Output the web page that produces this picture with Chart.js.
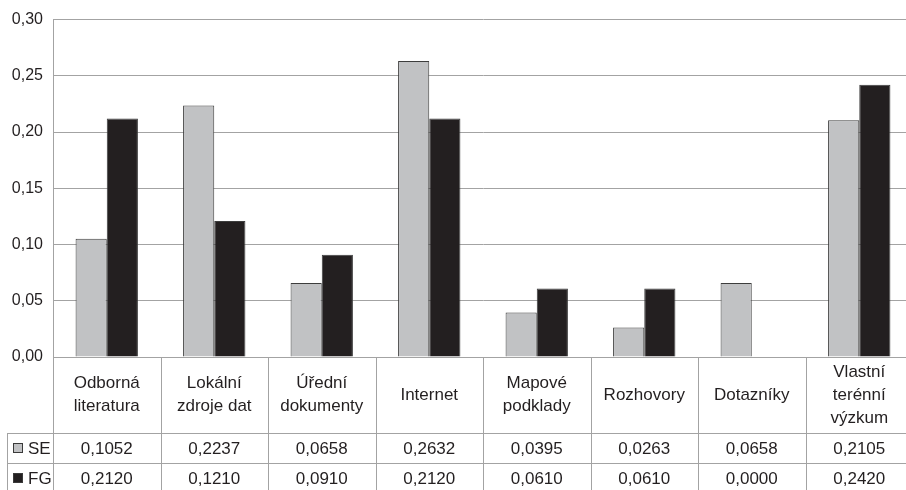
<!DOCTYPE html>
<html>
<head>
<meta charset="utf-8">
<script src="https://cdn.jsdelivr.net/npm/chart.js@4/dist/chart.umd.min.js"></script>
<style>
  html, body { margin: 0; padding: 0; background: #fff; overflow: hidden; }
  #wrap { width: 914px; height: 490px; position: relative; }
</style>
</head>
<body>
<div id="wrap"><canvas id="c"></canvas></div>
<script>
// Zdroje dat – podíl využití podle skupin SE a FG
const categories = [
  ['Odborná', 'literatura'],
  ['Lokální', 'zdroje dat'],
  ['Úřední', 'dokumenty'],
  ['Internet'],
  ['Mapové', 'podklady'],
  ['Rozhovory'],
  ['Dotazníky'],
  ['Vlastní', 'terénní', 'výzkum']
];
const seriesNames = ['SE', 'FG'];
const seValues = [0.1052, 0.2237, 0.0658, 0.2632, 0.0395, 0.0263, 0.0658, 0.2105];
const fgValues = [0.2120, 0.1210, 0.0910, 0.2120, 0.0610, 0.0610, 0.0000, 0.2420];
const yTicks = [0, 0.05, 0.10, 0.15, 0.20, 0.25, 0.30];

const FONT = '"Liberation Sans", Arial, Helvetica, sans-serif';
const TEXT = '#231f20';
const GRID = '#a3a3a3';
const SE_FILL = '#c1c2c4';
const FG_FILL = '#231f20';
const fmt = (v, d) => v.toFixed(d).replace('.', ',');

// Data table drawn under the plot, aligned with the category scale
const dataTable = {
  id: 'dataTable',
  afterDraw(chart) {
    const ctx = chart.ctx;
    const a = chart.chartArea;
    const xs = chart.scales.x;
    const n = categories.length;
    const colW = (a.right - a.left) / n;
    const H = chart.height;
    const catBottom = a.bottom + 76;
    const rowH = 30;
    const legendLeft = 7;
    const rows = [seValues, fgValues];
    const fills = [SE_FILL, FG_FILL];

    ctx.save();
    ctx.strokeStyle = GRID;
    ctx.lineWidth = 1;
    ctx.beginPath();
    // vertical separators
    for (let i = 0; i <= n; i++) {
      const x = Math.round(a.left + i * colW) + 0.5;
      ctx.moveTo(x, a.bottom);
      ctx.lineTo(x, H);
    }
    ctx.moveTo(legendLeft + 0.5, catBottom);
    ctx.lineTo(legendLeft + 0.5, H);
    // horizontal separators
    for (let r = 0; r < 2; r++) {
      const y = Math.round(catBottom + r * rowH) + 0.5;
      ctx.moveTo(legendLeft, y);
      ctx.lineTo(a.right, y);
    }
    ctx.stroke();

    ctx.fillStyle = TEXT;
    ctx.font = '17px ' + FONT;
    ctx.textAlign = 'center';
    ctx.textBaseline = 'middle';
    const lineH = 23;
    categories.forEach((lines, i) => {
      const cx = xs.getPixelForValue(i);
      const cy = (a.bottom + catBottom) / 2;
      const start = cy - (lines.length - 1) * lineH / 2;
      lines.forEach((t, k) => ctx.fillText(t, cx, start + k * lineH));
    });

    rows.forEach((vals, r) => {
      const cy = catBottom + r * rowH + rowH / 2 + 1;
      vals.forEach((v, i) => {
        ctx.fillStyle = TEXT;
        ctx.textAlign = 'center';
        ctx.fillText(fmt(v, 4), xs.getPixelForValue(i), cy);
      });
      // legend key
      const kx = 13, ky = Math.round(cy - 6);
      ctx.fillStyle = fills[r];
      ctx.fillRect(kx, ky, 10, 10);
      ctx.strokeStyle = '#3a3a3a';
      ctx.strokeRect(kx + 0.5, ky + 0.5, 9, 9);
      ctx.fillStyle = TEXT;
      ctx.textAlign = 'left';
      ctx.fillText(seriesNames[r], 28, cy);
    });
    ctx.restore();
  }
};

new Chart(document.getElementById('c'), {
  type: 'bar',
  data: {
    labels: categories.map(l => l.join(' ')),
    datasets: [
      { label: seriesNames[0], data: seValues, backgroundColor: SE_FILL,
        borderColor: '#3d3d3d', borderWidth: 1, borderSkipped: 'bottom' },
      { label: seriesNames[1], data: fgValues, backgroundColor: FG_FILL,
        borderColor: '#3d3d3d', borderWidth: 1, borderSkipped: 'bottom' }
    ]
  },
  options: {
    responsive: true,
    maintainAspectRatio: false,
    animation: false,
    devicePixelRatio: 1,
    datasets: { bar: { categoryPercentage: 0.58, barPercentage: 1 } },
    layout: { padding: { top: 16, right: 1, bottom: 133, left: 0 } },
    plugins: { legend: { display: false }, tooltip: { enabled: false } },
    scales: {
      x: { display: false },
      y: {
        min: 0, max: 0.3,
        afterBuildTicks(scale) { scale.ticks = yTicks.map(v => ({ value: v })); },
        afterFit(scale) { scale.width = 53; },
        grid: { color: GRID, lineWidth: 1, drawTicks: false },
        border: { color: GRID, width: 1 },
        ticks: {
          padding: 10,
          color: TEXT,
          font: { family: FONT, size: 16 },
          callback: v => fmt(v, 2)
        }
      }
    }
  },
  plugins: [dataTable]
});
</script>
</body>
</html>
